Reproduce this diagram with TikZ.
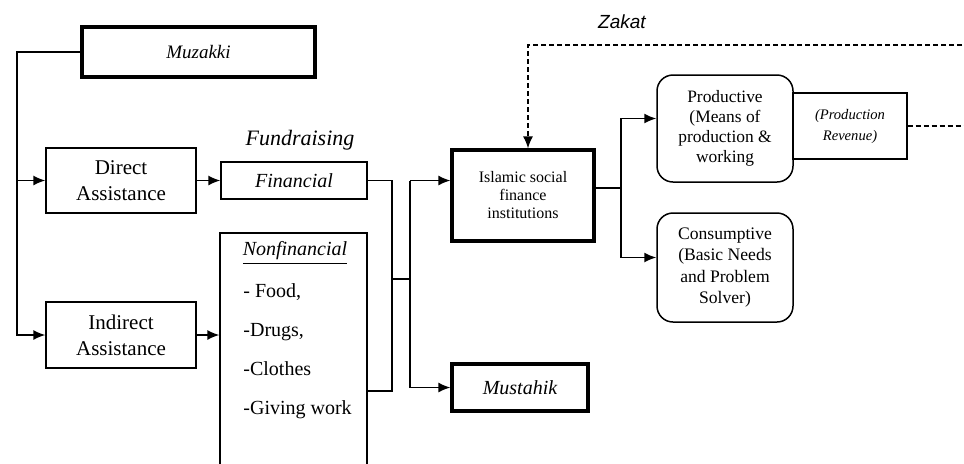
\documentclass[tikz,border=0pt]{standalone}
\usepackage{fontspec}
\setmainfont{Liberation Serif}
\newfontfamily\zakatfont{Liberation Sans}
\usetikzlibrary{arrows.meta}

\begin{document}
\begin{tikzpicture}[x=0.5pt, y=-0.5pt, line width=0.75pt,
		>={Latex[length=6pt,width=5pt]},
		box/.style={draw, line width=0.65pt, inner sep=0pt, align=center},
		boldbox/.style={draw, line width=1.6pt, inner sep=0pt, align=center},
		softbox/.style={draw, line width=0.75pt, rounded corners=8pt, inner sep=0pt, align=center},
		dashflow/.style={dash pattern=on 2.5pt off 1.5pt}]
				\useasboundingbox (0,0) rectangle (964,463);
				\clip (0,0) rectangle (964,463);
				\node[boldbox, minimum width=116.5pt, minimum height=25pt, font=\fontsize{9.5}{11}\selectfont\itshape] (Mz)at(198.5, 52) {Muzakki};
				\node[box, minimum width=75pt, minimum height=32.5pt, font=\fontsize{10.5}{13}\selectfont] (DA)at(121, 180.5) {Direct\\Assistance};
				\node[box, minimum width=75pt, minimum height=33pt, font=\fontsize{10.5}{13}\selectfont] (IA)at(121, 335) {Indirect\\Assistance};
				\node[box, minimum width=73pt, minimum height=18.5pt, font=\fontsize{10}{12}\selectfont\itshape] (Fin)at(294, 180.5) {Financial};
				\node[font=\fontsize{11}{13}\selectfont\itshape] (FR)at(300, 140) {Fundraising};
				\node[box, minimum width=73.5pt, minimum height=121pt] (NF)at(293.5, 354) {};
				\node[font=\fontsize{10}{12}\selectfont\itshape] (NFhead)at(295, 253) {\underline{Nonfinancial}};
				\node[anchor=west, align=left, font=\fontsize{10}{19.5}\selectfont] (NFlist)at(236, 351.5) {- Food,\\-Drugs,\\-Clothes\\-Giving work};
				\node[boldbox, minimum width=71pt, minimum height=45.5pt, font=\fontsize{8}{9}\selectfont] (ISF)at(523, 195.5) {Islamic social\\finance\\institutions};
				\node[boldbox, minimum width=68pt, minimum height=23.5pt, font=\fontsize{10}{12}\selectfont\itshape] (Mus)at(520, 387.5) {Mustahik};
				\node[softbox, minimum width=68pt, minimum height=53.5pt, font=\fontsize{8.7}{10}\selectfont] (Prod)at(725, 128.5) {Productive\\(Means of\\production \&\\working};
				\node[box, minimum width=57pt, minimum height=33pt, font=\fontsize{7.3}{10.5}\selectfont\itshape] (Rev)at(850, 126) {(Production\\Revenue)};
				\node[softbox, minimum width=68pt, minimum height=54.5pt, font=\fontsize{8.8}{10.8}\selectfont] (Cons)at(725, 267.5) {Consumptive\\(Basic Needs\\and Problem\\Solver)};
				\node[font=\zakatfont\itshape\fontsize{9.5}{11}\selectfont] (Zk)at(622, 22) {Zakat};
				\coordinate (trunk)at(17, 0);
				\coordinate (busL)at(392, 391);
				\coordinate (busR)at(410, 279);
				\coordinate (split)at(621, 188);
				\coordinate (zkTurn)at(528, 45);
				\coordinate (outTop)at(970, 45);
				\coordinate (outRev)at(970, 120);
				\draw[->] (Mz.west) -- (Mz.west -| trunk) |- (IA.west);
				\draw[->] (trunk |- DA.west) -- (DA.west);
				\draw[->] (DA) -- (Fin);
				\draw[->] (IA.east) -- (IA.east -| NF.west);
				\draw (Fin.east) -| (busL) -- (busL -| NF.east);
				\draw (busL |- busR) -- (busR);
				\draw[->] (busR |- Fin.east) -- (Fin.east -| ISF.west);
				\draw[->] (busR |- Fin.east) |- (Mus.west);
				\draw (ISF.east |- split) -- (split);
				\draw[->] (split) |- ([yshift=5pt]Prod.west);
				\draw[->] (split) |- ([yshift=5pt]Cons.west);
				\draw[dashflow] (Rev.east) -- (Rev.east -| outRev);
				\draw[dashflow, ->] (outTop) -- (zkTurn) -- (zkTurn |- ISF.north);
			\end{tikzpicture}
\end{document}
